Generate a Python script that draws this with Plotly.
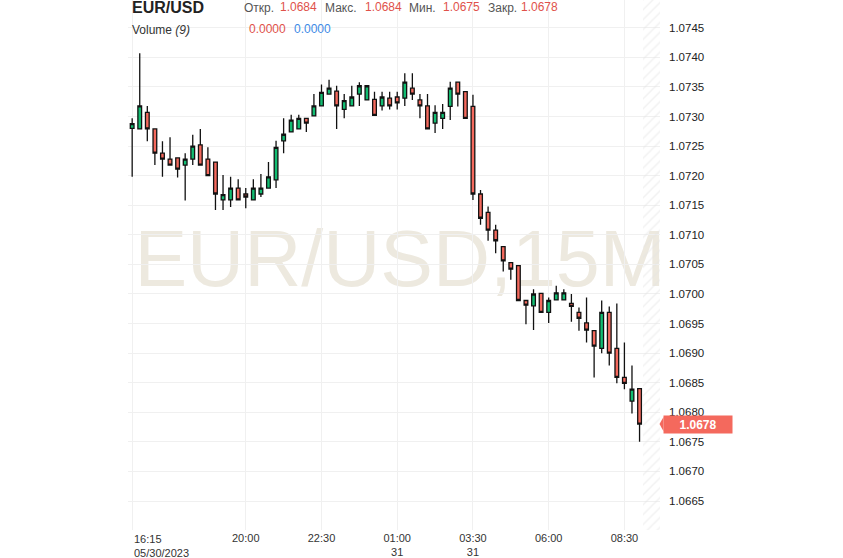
import plotly.graph_objects as go

# ---- data (EUR/USD, 15-minute candles, 05/30/2023 16:15 .. 05/31/2023 09:00) ----
candle_idx = list(range(68))
opens = [1.07280, 1.07279, 1.07307, 1.07279, 1.07238, 1.07228, 1.07230, 1.07218, 1.07228, 1.07252,
         1.07228, 1.07223, 1.07159, 1.07159, 1.07179, 1.07169, 1.07159, 1.07169, 1.07179, 1.07193,
         1.07259, 1.07274, 1.07279, 1.07297, 1.07301, 1.07318, 1.07338, 1.07343, 1.07312, 1.07318,
         1.07338, 1.07328, 1.07329, 1.07318, 1.07331, 1.07333, 1.07331, 1.07348, 1.07328, 1.07318,
         1.07289, 1.07297, 1.07317, 1.07358, 1.07342, 1.07317, 1.07169, 1.07138, 1.07108, 1.07080,
         1.07053, 1.07048, 1.06989, 1.06980, 1.07001, 1.06969, 1.06990, 1.06990, 1.06984, 1.06969,
         1.06951, 1.06938, 1.06908, 1.06969, 1.06908, 1.06859, 1.06819, 1.06840]
highs = [1.07297, 1.07407, 1.07318, 1.07279, 1.07258, 1.07265, 1.07230, 1.07238, 1.07269, 1.07279,
         1.07248, 1.07223, 1.07201, 1.07198, 1.07194, 1.07179, 1.07194, 1.07203, 1.07223, 1.07259,
         1.07297, 1.07303, 1.07303, 1.07297, 1.07338, 1.07354, 1.07362, 1.07352, 1.07338, 1.07352,
         1.07358, 1.07352, 1.07342, 1.07342, 1.07342, 1.07342, 1.07373, 1.07373, 1.07338, 1.07338,
         1.07319, 1.07321, 1.07359, 1.07358, 1.07342, 1.07337, 1.07176, 1.07148, 1.07117, 1.07080,
         1.07053, 1.07048, 1.06989, 1.07008, 1.07001, 1.06994, 1.07014, 1.07008, 1.07000, 1.06977,
         1.06994, 1.06938, 1.06989, 1.06979, 1.06984, 1.06918, 1.06879, 1.06840]
lows = [1.07198, 1.07279, 1.07258, 1.07218, 1.07198, 1.07218, 1.07197, 1.07158, 1.07218, 1.07218,
        1.07200, 1.07142, 1.07142, 1.07147, 1.07159, 1.07145, 1.07159, 1.07164, 1.07179, 1.07179,
        1.07238, 1.07274, 1.07279, 1.07274, 1.07301, 1.07318, 1.07338, 1.07279, 1.07297, 1.07318,
        1.07318, 1.07328, 1.07302, 1.07310, 1.07312, 1.07312, 1.07318, 1.07328, 1.07297, 1.07279,
        1.07272, 1.07279, 1.07294, 1.07317, 1.07297, 1.07159, 1.07117, 1.07090, 1.07069, 1.07038,
        1.07024, 1.06989, 1.06949, 1.06939, 1.06969, 1.06951, 1.06990, 1.06990, 1.06953, 1.06938,
        1.06918, 1.06859, 1.06900, 1.06879, 1.06849, 1.06839, 1.06798, 1.06750]
closes = [1.07288, 1.07318, 1.07279, 1.07238, 1.07228, 1.07218, 1.07211, 1.07228, 1.07250, 1.07218,
          1.07200, 1.07169, 1.07168, 1.07179, 1.07159, 1.07164, 1.07179, 1.07179, 1.07198, 1.07248,
          1.07270, 1.07294, 1.07297, 1.07289, 1.07318, 1.07341, 1.07348, 1.07318, 1.07327, 1.07333,
          1.07352, 1.07352, 1.07302, 1.07333, 1.07318, 1.07323, 1.07358, 1.07338, 1.07318, 1.07279,
          1.07307, 1.07307, 1.07348, 1.07338, 1.07297, 1.07169, 1.07128, 1.07108, 1.07090, 1.07056,
          1.07042, 1.06989, 1.06981, 1.07000, 1.06969, 1.06989, 1.07002, 1.07002, 1.06979, 1.06959,
          1.06939, 1.06912, 1.06969, 1.06900, 1.06859, 1.06849, 1.06839, 1.06780]

tick_positions = [0, 15, 25, 35, 45, 55, 65]
tick_labels = ["", "20:00", "22:30", "01:00<br>31", "03:30<br>31", "06:00", "08:30"]
first_tick_label = "16:15<br>05/30/2023"

header_fields = ["Откр.", "Макс.", "Мин.", "Закр."]
header_values = ["1.0684", "1.0684", "1.0675", "1.0678"]
last_price = 1.0678

# ---- layout constants ----
W, H = 843, 558
ML, MR, MT, MB = 128, 183, 0, 28
PW, PH = W - ML - MR, H - MT - MB
X_RANGE = [-0.55, 69.7]
Y_RANGE = [1.06601, 1.07497]
FONT = "Liberation Sans, Arial, sans-serif"
GREEN = "#12bd72"
RED = "#f4695d"
GRID = "#f0f0f0"


def px_x(p):
    return (p - ML) / PW


def px_y(p):
    return 1 - (p - MT) / PH


fig = go.Figure()

# hatched "future" area right of the last candle
hatch_x0 = candle_idx[-1] + 0.5
fig.add_trace(go.Bar(
    x=[(hatch_x0 + X_RANGE[1]) / 2], y=[Y_RANGE[1] - Y_RANGE[0]], base=[Y_RANGE[0]],
    width=[X_RANGE[1] - hatch_x0],
    marker=dict(color="rgba(0,0,0,0)", line_width=0,
                pattern=dict(shape="/", fgcolor="#e4e4e4", bgcolor="rgba(0,0,0,0)", size=7, solidity=0.2)),
    hoverinfo="skip", showlegend=False))

fig.add_trace(go.Candlestick(
    x=candle_idx, open=opens, high=highs, low=lows, close=closes,
    increasing=dict(fillcolor=GREEN, line=dict(color="#111111", width=1.3)),
    decreasing=dict(fillcolor=RED, line=dict(color="#111111", width=1.3)),
    whiskerwidth=0, showlegend=False))

# watermark (below traces)
wm_shift_y = 14 / PH
wm_shift_x = 6 / PW
fig.add_shape(type="rect", xref="paper", yref="paper", x0=wm_shift_x, x1=1 + wm_shift_x,
              y0=wm_shift_y, y1=1 + wm_shift_y,
              line=dict(width=0), fillcolor="rgba(0,0,0,0)", layer="below",
              label=dict(text="EUR/USD,15M", textposition="middle center",
                         font=dict(family=FONT, size=79, color="#ede9df")))

anns = []
# header row 1
anns.append(dict(x=px_x(130), y=px_y(8), xref="paper", yref="paper", xanchor="left", yanchor="middle",
                 text="<b>EUR/USD</b>", showarrow=False, font=dict(family=FONT, size=16, color="#222")))
field_x = [241.5, 322.5, 406.5, 485.5]
value_x = [278, 362.5, 440.5, 518.5]
for f, v, fx, vx in zip(header_fields, header_values, field_x, value_x):
    anns.append(dict(x=px_x(fx), y=px_y(8), xref="paper", yref="paper", xanchor="left", yanchor="middle",
                     text=f, showarrow=False, font=dict(family=FONT, size=12, color="#555")))
    anns.append(dict(x=px_x(vx), y=px_y(7), xref="paper", yref="paper", xanchor="left", yanchor="middle",
                     text=v, showarrow=False, font=dict(family=FONT, size=12, color="#e0514a")))
# header row 2
anns.append(dict(x=px_x(130), y=px_y(29.5), xref="paper", yref="paper", xanchor="left", yanchor="middle",
                 text="Volume <i>(9)</i>", showarrow=False, font=dict(family=FONT, size=12, color="#333")))
anns.append(dict(x=px_x(247), y=px_y(28.5), xref="paper", yref="paper", xanchor="left", yanchor="middle",
                 text="0.0000", showarrow=False, font=dict(family=FONT, size=12, color="#e0514a")))
anns.append(dict(x=px_x(292), y=px_y(28.5), xref="paper", yref="paper", xanchor="left", yanchor="middle",
                 text="0.0000", showarrow=False, font=dict(family=FONT, size=12, color="#3d8ae6")))
# first x tick label, left aligned
anns.append(dict(x=candle_idx[0], xref="x", y=px_y(531), yref="paper", xanchor="left", yanchor="top",
                 text=first_tick_label, align="left", showarrow=False,
                 font=dict(family=FONT, size=11, color="#333")))
# last price label
anns.append(dict(x=px_x(663), y=last_price, xref="paper", yref="y", xanchor="left", yanchor="middle",
                 text="<b>%.4f</b>" % last_price, showarrow=False, bgcolor=RED,
                 width=64, height=13, borderpad=2, align="center",
                 font=dict(family=FONT, size=12, color="white")))

fig.add_shape(type="path", xref="paper", yref="y", layer="above",
              path="M %f %f L %f %f L %f %f Z" % (px_x(659.5), last_price, px_x(663.5), last_price + 0.00012,
                                                px_x(663.5), last_price - 0.00012),
              fillcolor=RED, line=dict(width=0))

fig.update_layout(
    width=W, height=H, margin=dict(l=ML, r=MR, t=MT, b=MB),
    paper_bgcolor="white", plot_bgcolor="white",
    font=dict(family=FONT, size=11, color="#333"),
    showlegend=False, annotations=anns, bargap=0,
    xaxis=dict(range=X_RANGE, tickmode="array", tickvals=tick_positions, ticktext=tick_labels,
               showgrid=True, gridcolor=GRID, gridwidth=1, zeroline=False, showline=False,
               ticks="", rangeslider=dict(visible=False), fixedrange=True,
               tickfont=dict(family=FONT, size=11, color="#333")),
    yaxis=dict(range=Y_RANGE, side="right", tick0=1.0665, dtick=0.0005, tickformat=".4f",
               showgrid=True, gridcolor=GRID, gridwidth=1, zeroline=False, showline=False,
               ticks="", ticklabelstandoff=8, fixedrange=True,
               tickfont=dict(family=FONT, size=11.5, color="#222")),
)

fig.write_html("out.html", config={"displayModeBar": False, "staticPlot": True},
               post_script="document.body.style.margin='0';document.body.style.overflow='hidden';")
